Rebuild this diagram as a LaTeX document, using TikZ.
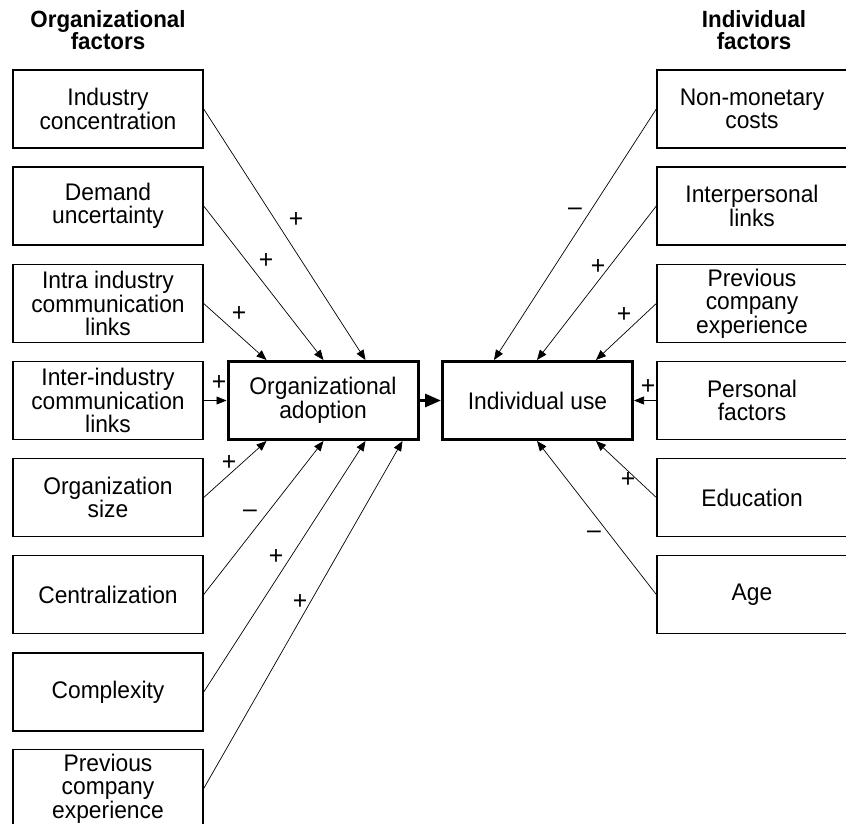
\documentclass[tikz,border=0pt]{standalone}
\usepackage{fontspec}
\setmainfont{Liberation Sans}[FakeStretch=0.95]
\usetikzlibrary{arrows.meta,calc}
\begin{document}
\begin{tikzpicture}[x=1pt,y=-1pt,
 box/.style={draw,line width=1.4pt,minimum width=190pt,minimum height=78pt,inner sep=0pt,align=center,font=\fontsize{24}{23.5}\selectfont},
 mainbox/.style={box,line width=3pt},
 conn/.style={line width=0.7pt,-{Triangle[length=10pt,width=8pt]}},
 mainarrow/.style={line width=3pt,-{Triangle[length=16pt,width=13pt]}},
 sign/.style={font=\fontsize{26}{26}\selectfont,inner sep=0pt},
 head/.style={font=\bfseries\fontsize{23.5}{22.5}\selectfont,align=center,inner sep=0pt}]
\useasboundingbox (0,0) rectangle (846,824);

% headers
\node[head] (h1) at (108,30) {Organizational\\factors};
\node[head] (h2) at (754,30) {Individual\\factors};

% organizational factor boxes
\node[box] (o1) at (108,109) {Industry\\concentration};
\node[box] (o2) at (108,206) {Demand\\uncertainty};
\node[box] (o3) at (108,303.5) {Intra industry\\communication\\links};
\node[box] (o4) at (108,400.5) {Inter-industry\\communication\\links};
\node[box] (o5) at (108,497.5) {Organization\\size};
\node[box] (o6) at (108,594.5) {Centralization};
\node[box] (o7) at (108,692) {Complexity};
\node[box] (o8) at (108,788.5) {Previous\\company\\experience};

% individual factor boxes
\node[box] (r1) at (752,109) {Non-monetary\\costs};
\node[box] (r2) at (752,206) {Interpersonal\\links};
\node[box] (r3) at (752,303.5) {Previous\\company\\experience};
\node[box] (r4) at (752,400.5) {Personal\\factors};
\node[box] (r5) at (752,497.5) {Education};
\node[box] (r6) at (752,594.5) {Age};

% central boxes
\node[mainbox] (oa) at (323,400.5) {Organizational\\adoption};
\node[mainbox] (iu) at (537.5,400.5) {Individual use};

% left connectors
\draw[conn] (o1.east) -- ($(oa.north west)+(139,0)$);
\draw[conn] (o2.east) -- ($(oa.north west)+(97,0)$);
\draw[conn] (o3.east) -- ($(oa.north west)+(40,0)$);
\draw[conn] (o4.east) -- (oa.west);
\draw[conn] (o5.east) -- ($(oa.south west)+(40,0)$);
\draw[conn] (o6.east) -- ($(oa.south west)+(97,0)$);
\draw[conn] (o7.east) -- ($(oa.south west)+(139,0)$);
\draw[conn] (o8.east) -- ($(oa.south west)+(176,0)$);

% main arrow
\draw[mainarrow] (oa.east) -- (iu.west);

% right connectors
\draw[conn] (r1.west) -- ($(iu.north west)+(53,0)$);
\draw[conn] (r2.west) -- ($(iu.north west)+(96,0)$);
\draw[conn] (r3.west) -- ($(iu.north west)+(155,0)$);
\draw[conn] (r4.west) -- (iu.east);
\draw[conn] (r5.west) -- ($(iu.south west)+(155,0)$);
\draw[conn] (r6.west) -- ($(iu.south west)+(96,0)$);

% signs, left
\node[sign] (s1) at (296,220) {+};
\node[sign] (s2) at (266,261) {+};
\node[sign] (s3) at (239,314) {+};
\node[sign] (s4) at (219,383) {+};
\node[sign] (s5) at (229,463) {+};
\node[sign] (s6) at (250,514) {–};
\node[sign] (s7) at (276,557) {+};
\node[sign] (s8) at (300,602) {+};
% signs, right
\node[sign] (t1) at (575,212) {–};
\node[sign] (t2) at (598,267) {+};
\node[sign] (t3) at (624,315) {+};
\node[sign] (t4) at (648,387) {+};
\node[sign] (t5) at (628,480) {+};
\node[sign] (t6) at (594,535) {–};
\end{tikzpicture}
\end{document}
